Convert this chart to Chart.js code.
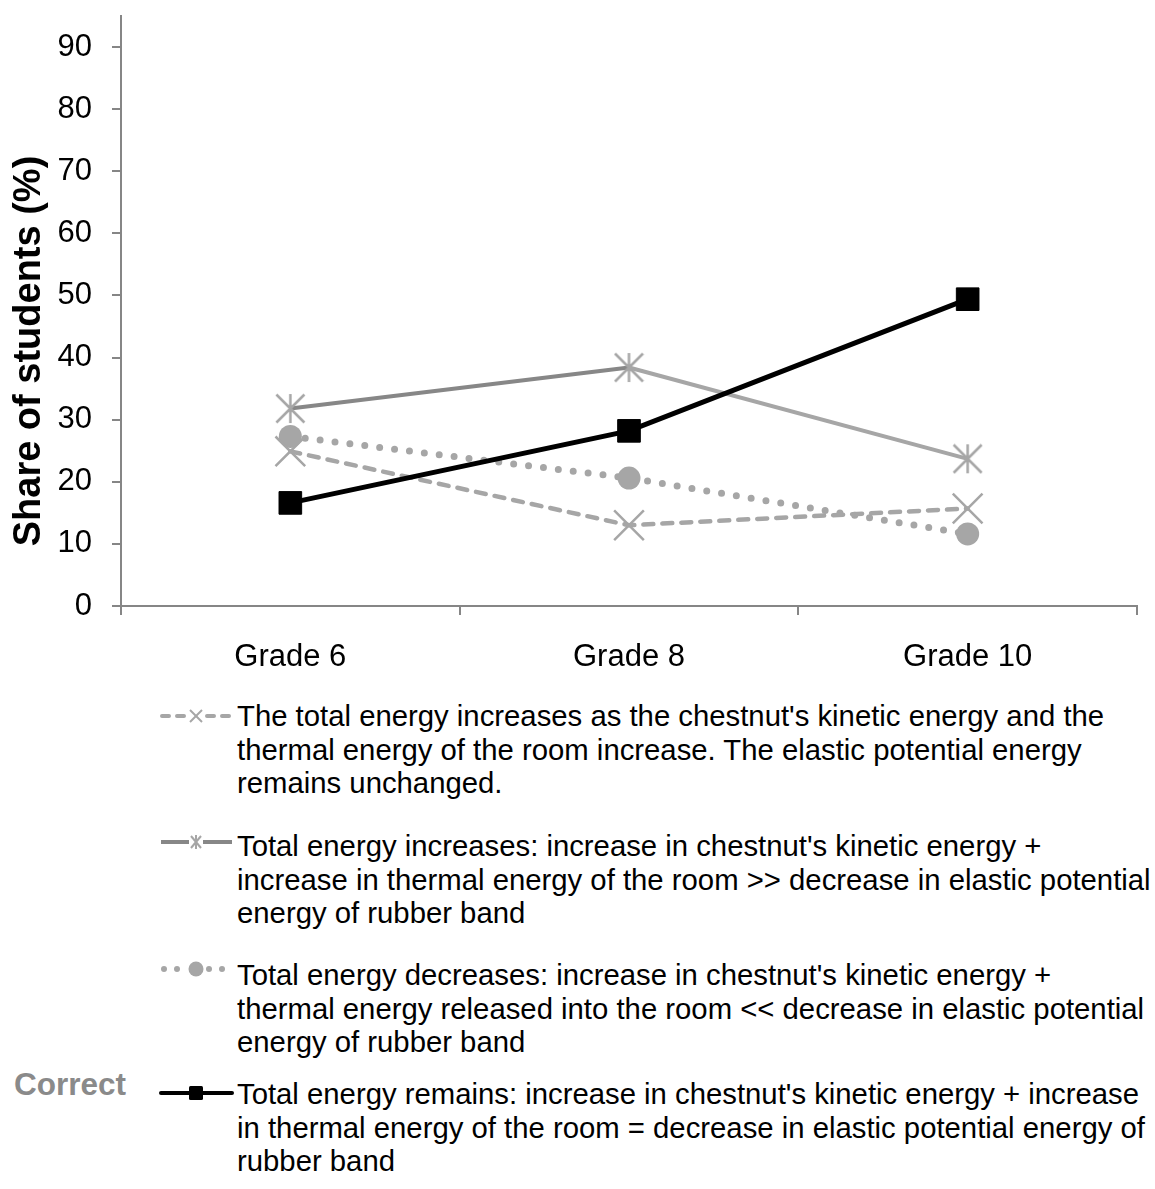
<!DOCTYPE html>
<html>
<head>
<meta charset="utf-8">
<script src="https://cdn.jsdelivr.net/npm/chart.js@4"></script>
<style>
  body { margin: 0; background: #fff; font-family: "Liberation Sans", Arial, sans-serif; }
  #page { position: relative; width: 1155px; height: 1189px; }
  #wrap { position: absolute; left: 0; top: 0; width: 1155px; height: 690px; }
  .entry { position: absolute; left: 237px; font-size: 29.3px; line-height: 33.5px; color: #000; white-space: nowrap; }
  .mark { position: absolute; left: 156px; width: 80px; height: 24px; }
  #correct { position: absolute; left: 14px; top: 1066px; font-size: 31.5px; font-weight: bold; color: #8a8a8a; }
</style>
</head>
<body>
<div id="page">
  <div id="wrap"><canvas id="chart"></canvas></div>

  <svg class="mark" style="top:704px" viewBox="0 0 80 24">
    <line x1="6" y1="12" x2="76" y2="12" stroke="#a6a6a6" stroke-width="4" stroke-dasharray="7 8" stroke-linecap="round"/>
    <rect x="33" y="4" width="14" height="16" fill="#fff"/>
    <line x1="34" y1="6" x2="46" y2="18" stroke="#a6a6a6" stroke-width="2"/>
    <line x1="46" y1="6" x2="34" y2="18" stroke="#a6a6a6" stroke-width="2"/>
  </svg>
  <div class="entry" style="top:699px">The total energy increases as the chestnut's kinetic energy and the<br>thermal energy of the room increase. The elastic potential energy<br>remains unchanged.</div>

  <svg class="mark" style="top:830px" viewBox="0 0 80 24">
    <line x1="5" y1="12" x2="33" y2="12" stroke="#878787" stroke-width="4"/>
    <line x1="47" y1="12" x2="76" y2="12" stroke="#878787" stroke-width="4"/>
    <line x1="35" y1="6" x2="45" y2="18" stroke="#a6a6a6" stroke-width="2"/>
    <line x1="45" y1="6" x2="35" y2="18" stroke="#a6a6a6" stroke-width="2"/>
    <line x1="40" y1="5" x2="40" y2="19" stroke="#a6a6a6" stroke-width="2"/>
  </svg>
  <div class="entry" style="top:829px">Total energy increases: increase in chestnut's kinetic energy +<br>increase in thermal energy of the room &gt;&gt; decrease in elastic potential<br>energy of rubber band</div>

  <svg class="mark" style="top:957px" viewBox="0 0 80 24">
    <circle cx="8" cy="12" r="3" fill="#a6a6a6"/>
    <circle cx="21" cy="12" r="3" fill="#a6a6a6"/>
    <circle cx="53" cy="12" r="3" fill="#a6a6a6"/>
    <circle cx="66" cy="12" r="3" fill="#a6a6a6"/>
    <circle cx="40" cy="12" r="7.5" fill="#a6a6a6"/>
  </svg>
  <div class="entry" style="top:958px">Total energy decreases: increase in chestnut's kinetic energy +<br>thermal energy released into the room &lt;&lt; decrease in elastic potential<br>energy of rubber band</div>

  <div id="correct">Correct</div>
  <svg class="mark" style="top:1081px" viewBox="0 0 80 24">
    <line x1="5" y1="12" x2="76" y2="12" stroke="#000" stroke-width="4" stroke-linecap="round"/>
    <rect x="33" y="5" width="14" height="14" rx="1.5" fill="#000"/>
  </svg>
  <div class="entry" style="top:1077px">Total energy remains: increase in chestnut's kinetic energy + increase<br>in thermal energy of the room = decrease in elastic potential energy of<br>rubber band</div>
</div>

<script>
// values (share of students, %)
const grades = ['Grade 6', 'Grade 8', 'Grade 10'];
const totalUnchanged = [24.9, 13.0, 15.7];   // dashed, x markers
const totalIncreases = [31.8, 38.4, 23.7];   // solid gray, star markers
const totalDecreases = [27.3, 20.6, 11.6];   // dotted, circles
const totalRemains = [16.6, 28.2, 49.4];     // black, squares (correct)
const yTicks = [0, 10, 20, 30, 40, 50, 60, 70, 80, 90];

const lightGray = '#a6a6a6';
const midGray = '#878787';
const axisGray = '#868686';

// Excel-style star: an x with a vertical bar through it
function starMarker(size, color, lw) {
  const c = document.createElement('canvas');
  c.width = size;
  c.height = size;
  const g = c.getContext('2d');
  g.strokeStyle = color;
  g.lineWidth = lw;
  const a = 1.5, b = size - 1.5, m = size / 2;
  g.beginPath();
  g.moveTo(a, a); g.lineTo(b, b);
  g.moveTo(b, a); g.lineTo(a, b);
  g.moveTo(m, a - 0.5); g.lineTo(m, b + 0.5);
  g.stroke();
  return c;
}

const yTitle = {
  id: 'yTitle',
  afterDraw(chart) {
    const ctx = chart.ctx;
    ctx.save();
    ctx.translate(30, 351);
    ctx.rotate(-Math.PI / 2);
    ctx.font = 'bold 38px "Liberation Sans", Arial, sans-serif';
    ctx.fillStyle = '#000';
    ctx.textAlign = 'center';
    ctx.textBaseline = 'middle';
    ctx.fillText('Share of students (%)', 0, 0);
    ctx.restore();
  }
};

const ctx = document.getElementById('chart');
new Chart(ctx, {
  type: 'line',
  data: {
    labels: grades,
    datasets: [
      {
        label: 'Total energy remains',
        data: totalRemains,
        borderColor: '#000',
        backgroundColor: '#000',
        borderWidth: 5,
        pointStyle: 'rect',
        pointRadius: 16,
        pointBorderWidth: 1,
        pointBorderColor: '#000',
        pointBackgroundColor: '#000'
      },
      {
        label: 'Total energy increases',
        data: totalIncreases,
        borderColor: midGray,
        borderWidth: 4,
        segment: {
          borderColor: (c) => c.p0DataIndex === 0 ? midGray : lightGray
        },
        pointStyle: starMarker(31, lightGray, 2.5),
        pointRadius: 15
      },
      {
        label: 'The total energy increases',
        data: totalUnchanged,
        borderColor: lightGray,
        borderWidth: 4.5,
        borderDash: [10, 9],
        borderCapStyle: 'round',
        pointStyle: 'crossRot',
        pointRadius: 21,
        pointBorderWidth: 2.5,
        pointBorderColor: lightGray
      },
      {
        label: 'Total energy decreases',
        data: totalDecreases,
        borderColor: lightGray,
        borderWidth: 7,
        borderDash: [0, 15],
        borderCapStyle: 'round',
        pointStyle: 'circle',
        pointRadius: 11.5,
        pointBorderWidth: 0,
        pointBackgroundColor: lightGray
      }
    ]
  },
  options: {
    responsive: true,
    maintainAspectRatio: false,
    animation: false,
    layout: { autoPadding: false, padding: { top: 16, right: 18, left: 0, bottom: 0 } },
    plugins: {
      legend: { display: false },
      tooltip: { enabled: false }
    },
    scales: {
      x: {
        offset: true,
        grid: {
          offset: true,
          drawOnChartArea: false,
          drawTicks: true,
          tickLength: 9,
          color: axisGray,
          lineWidth: 2
        },
        border: { color: axisGray, width: 2 },
        ticks: {
          color: '#000',
          padding: 24,
          font: { size: 31, family: '"Liberation Sans", Arial, sans-serif' }
        },
        afterFit: (axis) => {
          axis.height = 84;
          axis.paddingLeft = 0;
          axis.paddingRight = 0;
        }
      },
      y: {
        min: 0,
        max: 95,
        grid: {
          drawOnChartArea: false,
          drawTicks: true,
          tickLength: 9,
          color: axisGray,
          lineWidth: 2
        },
        border: { color: axisGray, width: 2 },
        ticks: {
          stepSize: 10,
          color: '#000',
          padding: 20,
          font: { size: 31, family: '"Liberation Sans", Arial, sans-serif' }
        },
        afterBuildTicks: (axis) => {
          axis.ticks = yTicks.map((v) => ({ value: v }));
        },
        afterFit: (axis) => {
          axis.width = 121;
          axis.paddingTop = 0;
          axis.paddingBottom = 0;
        }
      }
    }
  },
  plugins: [yTitle]
});
</script>
</body>
</html>
